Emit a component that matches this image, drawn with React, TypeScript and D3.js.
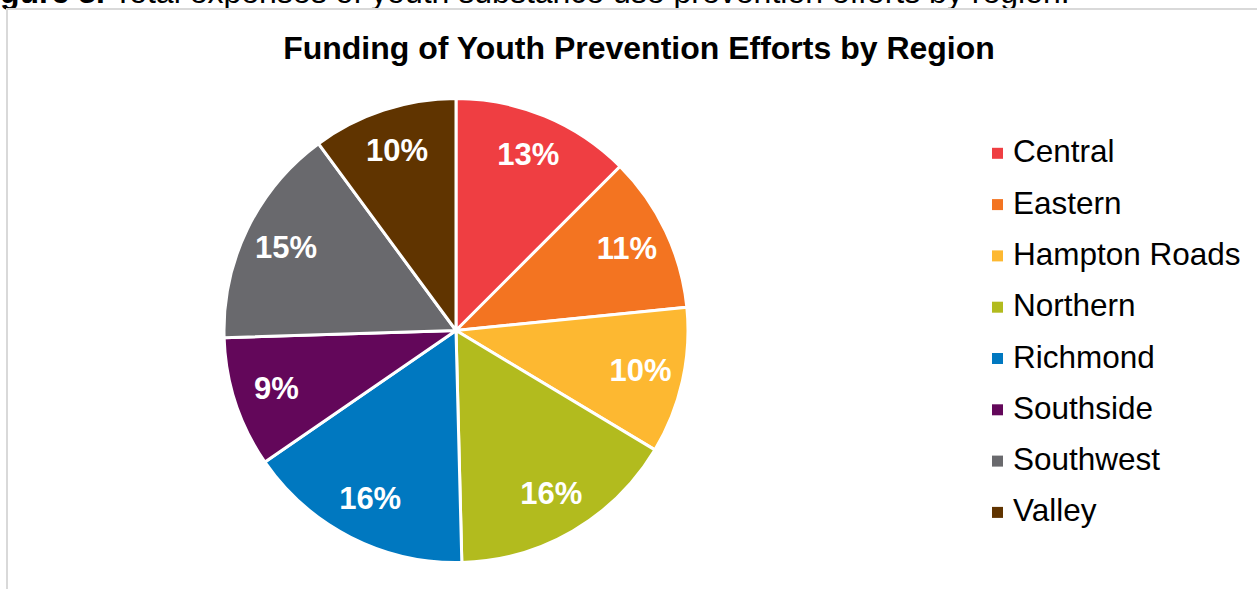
import React from "react";
import * as d3 from "d3";

const regions = ["Central", "Eastern", "Hampton Roads", "Northern", "Richmond", "Southside", "Southwest", "Valley"];
const shares = [12.5, 10.9, 10.2, 16.0, 15.8, 9.1, 15.4, 10.1];
const labels = ["13%", "11%", "10%", "16%", "16%", "9%", "15%", "10%"];
const colors = ["#EF3E42", "#F37421", "#FDB831", "#B2BB1E", "#0078C0", "#63075A", "#69696D", "#603400"];

const title = "Funding of Youth Prevention Efforts by Region";
const captionBold = "Figure 3.";
const captionText = " Total expenses of youth substance use prevention efforts by region.";

const W = 1257;
const H = 589;
const FONT = "'Liberation Sans', Arial, sans-serif";

export default function App() {
  const cx = 456;
  const cy = 330.5;
  const r = 232;
  const data = regions.map((name, i) => ({ name, value: shares[i], label: labels[i], color: colors[i] }));
  const pie = d3.pie<any>().value((d) => d.value).sort(null);
  const arcs = pie(data);
  const arcGen = d3.arc<any>().innerRadius(0).outerRadius(r);
  const labelArc = d3.arc<any>().innerRadius(r * 0.815).outerRadius(r * 0.815);

  const legendY0 = 162.3;
  const legendStep = 51.3;

  return (
    <svg width={W} height={H} style={{ position: "absolute", left: 0, top: 0, background: "#fff" }} fontFamily={FONT}>
      <rect x={0} y={0} width={W} height={H} fill="#fff" />
      <text x={-28.5} y={3} fontSize={32} fill="#000">
        <tspan fontWeight="bold">{captionBold}</tspan>
        <tspan>{captionText}</tspan>
      </text>
      <rect x={7} y={9} width={W + 20} height={H + 20} fill="none" stroke="#D9D9D9" strokeWidth={2} />
      <text x={639} y={58.5} fontSize={32} fontWeight="bold" textAnchor="middle" fill="#000">
        {title}
      </text>
      <g transform={`translate(${cx},${cy})`}>
        {arcs.map((a, i) => (
          <path key={i} d={arcGen(a) as string} fill={a.data.color} stroke="#fff" strokeWidth={3} strokeLinejoin="round" />
        ))}
        {arcs.map((a, i) => {
          const [x, y] = labelArc.centroid(a);
          return (
            <text key={"l" + i} x={x} y={y - 1.5} dy="0.36em" textAnchor="middle" fontSize={31} fontWeight="bold" fill="#fff">
              {a.data.label}
            </text>
          );
        })}
      </g>
      <g>
        {data.map((d, i) => {
          const by = legendY0 + i * legendStep;
          return (
            <g key={"lg" + i}>
              <rect x={992} y={by - 14.5} width={11} height={11} fill={d.color} />
              <text x={1013} y={by} fontSize={31.5} fill="#000">
                {d.name}
              </text>
            </g>
          );
        })}
      </g>
    </svg>
  );
}
